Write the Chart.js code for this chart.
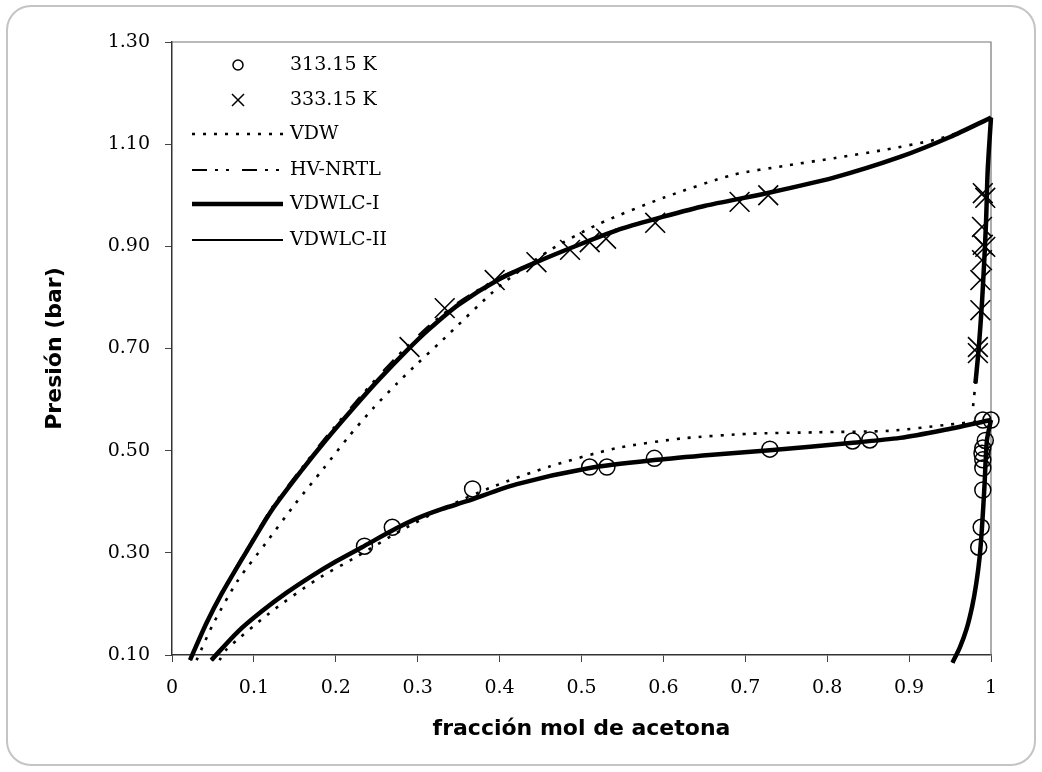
<!DOCTYPE html>
<html>
<head>
<meta charset="utf-8">
<script src="https://cdn.jsdelivr.net/npm/chart.js@4.4.1/dist/chart.umd.min.js"></script>
<style>
html,body{margin:0;padding:0;background:#fff;}
canvas{display:block;}
</style>
</head>
<body>
<canvas id="c" width="1042" height="772"></canvas>
<script>
// ---------- tick labels ----------
const xTickLabels = ['0','0.1','0.2','0.3','0.4','0.5','0.6','0.7','0.8','0.9','1'];
const yTickLabels = ['0.10','0.30','0.50','0.70','0.90','1.10','1.30'];

// ---------- experimental data ----------
const exp313Liquid = [[0.235,0.313],[0.269,0.350],[0.367,0.425],[0.510,0.468],[0.531,0.468],[0.589,0.485],[0.730,0.503],[0.831,0.519],[0.852,0.521],[1.000,0.560]];
const exp313Vapor  = [[0.990,0.560],[0.993,0.520],[0.990,0.505],[0.989,0.495],[0.990,0.482],[0.990,0.466],[0.990,0.423],[0.988,0.350],[0.985,0.311]];
const exp333Liquid = [[0.290,0.703],[0.333,0.779],[0.394,0.834],[0.445,0.869],[0.486,0.893],[0.510,0.908],[0.530,0.915],[0.590,0.946],[0.693,0.987],[0.728,1.000]];
const exp333Vapor  = [[0.990,1.004],[0.993,0.995],[0.989,0.938],[0.990,0.903],[0.993,0.899],[0.989,0.873],[0.987,0.834],[0.987,0.775],[0.984,0.703],[0.984,0.691]];

// ---------- VDWLC-I (VDWLC-II overlaps it) ----------
const lcBubble333 = [[0.022,0.09],[0.042,0.162],[0.061,0.221],[0.090,0.300],[0.122,0.384],[0.159,0.463],[0.188,0.521],[0.225,0.590],[0.253,0.640],[0.286,0.695],[0.314,0.738],[0.350,0.786],[0.400,0.836],[0.445,0.869],[0.500,0.905],[0.550,0.935],[0.600,0.958],[0.650,0.979],[0.726,1.004],[0.807,1.034],[0.889,1.075],[0.950,1.114],[1.000,1.152]];
const lcDew333    = [[1.000,1.152],[0.996,1.050],[0.994,0.950],[0.992,0.880],[0.989,0.790],[0.985,0.700],[0.981,0.632]];
const lcBubble313 = [[0.048,0.09],[0.080,0.145],[0.110,0.186],[0.140,0.222],[0.170,0.254],[0.200,0.283],[0.232,0.311],[0.274,0.348],[0.300,0.368],[0.330,0.386],[0.360,0.401],[0.420,0.434],[0.510,0.466],[0.592,0.482],[0.660,0.492],[0.730,0.501],[0.828,0.515],[0.889,0.525],[0.941,0.540],[1.000,0.560]];
const lcDew313    = [[1.000,0.560],[0.995,0.520],[0.992,0.430],[0.989,0.350],[0.986,0.290],[0.982,0.240],[0.977,0.195],[0.970,0.150],[0.962,0.115],[0.953,0.085]];

// ---------- HV-NRTL ----------
const nrtlBubble333 = [[0.022,0.09],[0.042,0.164],[0.061,0.224],[0.090,0.304],[0.122,0.389],[0.159,0.468],[0.188,0.527],[0.225,0.597],[0.253,0.648],[0.286,0.703],[0.314,0.745],[0.350,0.791],[0.400,0.839],[0.445,0.871],[0.500,0.906],[0.550,0.935],[0.600,0.958],[0.650,0.979],[0.726,1.004],[0.807,1.034],[0.889,1.075],[0.950,1.114],[1.000,1.152]];

// ---------- VDW ----------
const vdwBubble333 = [[0.030,0.09],[0.050,0.160],[0.080,0.245],[0.115,0.320],[0.150,0.395],[0.185,0.465],[0.215,0.526],[0.245,0.582],[0.275,0.632],[0.300,0.671],[0.330,0.716],[0.400,0.822],[0.460,0.891],[0.520,0.943],[0.600,0.995],[0.685,1.040],[0.750,1.058],[0.810,1.073],[0.870,1.089],[0.930,1.108],[0.965,1.125],[1.000,1.152]];
const vdwDew333    = [[1.000,1.152],[0.996,1.050],[0.994,0.950],[0.992,0.880],[0.989,0.790],[0.985,0.700],[0.981,0.632],[0.978,0.585]];
const vdwBubble313 = [[0.058,0.09],[0.066,0.110],[0.119,0.182],[0.176,0.247],[0.225,0.292],[0.281,0.345],[0.335,0.390],[0.391,0.429],[0.461,0.469],[0.543,0.505],[0.623,0.524],[0.705,0.533],[0.787,0.536],[0.877,0.539],[0.943,0.550],[1.000,0.560]];

// ---------- helpers ----------
const toPts = a => a.map(([x,y]) => ({x, y}));
function joinSegments(...segs){
  const out = [];
  segs.forEach((s,i) => { if (i) out.push({x:null, y:null}); out.push(...toPts(s)); });
  return out;
}

const lineBase = {showLine:true, pointRadius:0, pointHoverRadius:0, borderColor:'#000', backgroundColor:'#000', tension:0.25, spanGaps:false, clip:false, fill:false};
const datasets = [
  {label:'313.15 K', data: toPts([...exp313Liquid, ...exp313Vapor]), showLine:false, pointStyle:'circle', pointRadius:8, pointBorderWidth:1.5, pointBorderColor:'#000', pointBackgroundColor:'rgba(0,0,0,0)', borderColor:'#000', clip:false},
  {label:'333.15 K', data: toPts([...exp333Liquid, ...exp333Vapor]), showLine:false, pointStyle:'crossRot', pointRadius:14, pointBorderWidth:1.6, pointBorderColor:'#000', pointBackgroundColor:'rgba(0,0,0,0)', borderColor:'#000', clip:false},
  Object.assign({}, lineBase, {label:'VDW', data: joinSegments(vdwBubble333, vdwDew333, vdwBubble313, lcDew313), borderWidth:2.6, borderDash:[3,8]}),
  Object.assign({}, lineBase, {label:'HV-NRTL', data: joinSegments(nrtlBubble333, lcDew333, lcBubble313, lcDew313), borderWidth:2, borderDash:[15,8,3,8,3,13]}),
  Object.assign({}, lineBase, {label:'VDWLC-I', data: joinSegments(lcBubble333, lcDew333, lcBubble313, lcDew313), borderWidth:4.5}),
  Object.assign({}, lineBase, {label:'VDWLC-II', data: joinSegments(lcBubble333, lcDew333, lcBubble313, lcDew313), borderWidth:2})
];

// ---------- plugins ----------
const framePlugin = {
  id:'frame',
  beforeDraw(chart){
    const ctx = chart.ctx;
    ctx.save();
    ctx.fillStyle = '#fff';
    ctx.fillRect(0,0,chart.width,chart.height);
    ctx.strokeStyle = '#c4c4c4';
    ctx.lineWidth = 2;
    ctx.beginPath();
    ctx.roundRect(7,6,1028,759,24);
    ctx.stroke();
    ctx.restore();
  },
  beforeDatasetsDraw(chart){
    const {ctx, chartArea:a} = chart;
    ctx.save();
    ctx.strokeStyle = '#777';
    ctx.lineWidth = 1.2;
    ctx.beginPath();
    ctx.moveTo(a.left, a.top); ctx.lineTo(a.right, a.top); ctx.lineTo(a.right, a.bottom);
    ctx.stroke();
    ctx.restore();
  }
};

const legendRows = [65,100,134,170,204,240];
const legendPlugin = {
  id:'inlineLegend',
  afterDatasetsDraw(chart){
    const ctx = chart.ctx;
    ctx.save();
    ctx.fillStyle = '#000';
    ctx.strokeStyle = '#000';
    ctx.font = '19px "DejaVu Serif"';
    ctx.textBaseline = 'middle';
    ctx.textAlign = 'left';
    chart.data.datasets.forEach((ds, i) => {
      const y = legendRows[i];
      ctx.save();
      if (ds.showLine === false) {
        ctx.lineWidth = 1.5;
        ctx.beginPath();
        if (ds.pointStyle === 'circle') {
          ctx.arc(238, y, 5, 0, Math.PI*2);
        } else {
          ctx.moveTo(232, y-6); ctx.lineTo(244, y+6);
          ctx.moveTo(232, y+6); ctx.lineTo(244, y-6);
        }
        ctx.stroke();
      } else {
        ctx.lineWidth = ds.borderWidth;
        ctx.setLineDash(ds.borderDash || []);
        ctx.beginPath();
        ctx.moveTo(192, y); ctx.lineTo(283, y);
        ctx.stroke();
      }
      ctx.restore();
      ctx.fillText(ds.label, 290, y);
    });
    ctx.restore();
  }
};

new Chart(document.getElementById('c'), {
  type:'scatter',
  data:{datasets},
  options:{
    responsive:false,
    animation:false,
    devicePixelRatio:1,
    layout:{padding:{left:0, top:42, right:51, bottom:0}},
    plugins:{legend:{display:false}, tooltip:{enabled:false}},
    scales:{
      x:{
        type:'linear', min:0, max:1,
        ticks:{stepSize:0.1, color:'#000', font:{family:'DejaVu Serif', size:19}, padding:15,
               callback:(v,i)=>xTickLabels[i]},
        grid:{display:true, drawOnChartArea:false, drawTicks:true, tickLength:7, color:'#444'},
        border:{display:true, color:'#333', width:1.5},
        title:{display:true, text:'fracción mol de acetona', color:'#000', font:{family:'DejaVu Sans', weight:'bold', size:22}, padding:{top:0, bottom:30}},
        afterFit(s){ s.height = 117; }
      },
      y:{
        type:'linear', min:0.1, max:1.3,
        ticks:{stepSize:0.2, color:'#000', font:{family:'DejaVu Serif', size:19}, padding:15,
               callback:(v,i)=>yTickLabels[i]},
        grid:{display:true, drawOnChartArea:false, drawTicks:true, tickLength:7, color:'#444'},
        border:{display:true, color:'#333', width:1.5},
        title:{display:true, text:'Presión (bar)', color:'#000', font:{family:'DejaVu Sans', weight:'bold', size:22}, padding:{top:42, bottom:0}},
        afterFit(s){ s.width = 172; }
      }
    }
  },
  plugins:[framePlugin, legendPlugin]
});
</script>
</body>
</html>
